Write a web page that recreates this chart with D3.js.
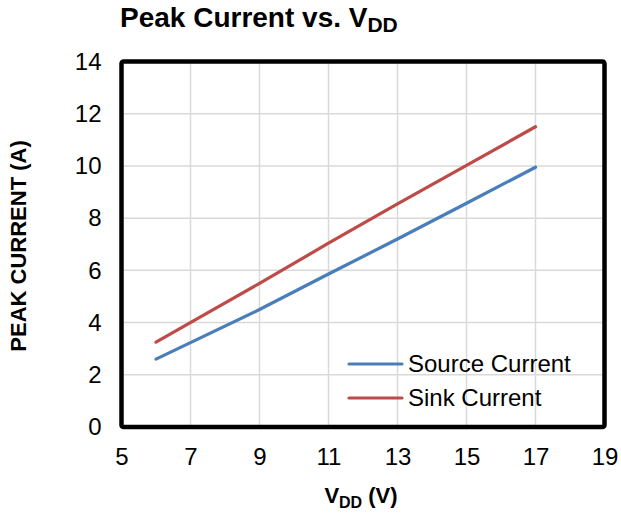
<!DOCTYPE html>
<html>
<head>
<meta charset="utf-8">
<script src="https://cdn.jsdelivr.net/npm/d3@7"></script>
<style>
    body { margin: 0; background: #fff; }
    text { font-family: "Liberation Sans", Arial, sans-serif; }
</style>
</head>
<body>
<div id="chart-div"></div>
<script>
const vdd = [6, 9, 11, 13, 15, 17];
const sourceCurrent = [2.6, 4.5, 5.86, 7.2, 8.57, 9.95];
const sinkCurrent = [3.25, 5.5, 7.04, 8.55, 10.02, 11.5];
const xTicks = [5, 7, 9, 11, 13, 15, 17, 19];
const yTicks = [0, 2, 4, 6, 8, 10, 12, 14];
const seriesNames = ["Source Current", "Sink Current"];

const WIDTH = 621;
const HEIGHT = 518;
const LEFT = 121.5, RIGHT = 604.5, TOP = 61.5, BOTTOM = 427;

let svg = d3.select("#chart-div")
    .append("svg")
    .attr("width", WIDTH)
    .attr("height", HEIGHT);

let xScale = d3.scaleLinear().domain([5, 19]).range([LEFT, RIGHT]);
let yScale = d3.scaleLinear().domain([0, 14]).range([BOTTOM, TOP]);

let color = d3.scaleOrdinal()
    .domain(seriesNames)
    .range(["#4a7ebb", "#be4b48"]);

// gridlines
svg.append("g")
    .selectAll("line.vgrid")
    .data(xTicks)
    .enter().append("line")
    .attr("x1", d => xScale(d)).attr("x2", d => xScale(d))
    .attr("y1", TOP).attr("y2", BOTTOM)
    .attr("stroke", "#d9d9d9").attr("stroke-width", 1.5);

svg.append("g")
    .selectAll("line.hgrid")
    .data(yTicks)
    .enter().append("line")
    .attr("x1", LEFT).attr("x2", RIGHT)
    .attr("y1", d => yScale(d)).attr("y2", d => yScale(d))
    .attr("stroke", "#d9d9d9").attr("stroke-width", 1.5);

// axes (labels only)
let xAxis = svg.append("g")
    .attr("transform", "translate(0," + BOTTOM + ")")
    .call(d3.axisBottom(xScale).tickValues(xTicks).tickSize(0).tickPadding(21));
let yAxis = svg.append("g")
    .attr("transform", "translate(" + LEFT + ",0)")
    .call(d3.axisLeft(yScale).tickValues(yTicks).tickSize(0).tickPadding(20));
[xAxis, yAxis].forEach(a => {
    a.select(".domain").remove();
    a.selectAll("text")
        .style("font-family", "'Liberation Sans', Arial, sans-serif")
        .style("font-size", "24px")
        .attr("fill", "#000");
});

// series lines
let rows = [sourceCurrent, sinkCurrent];
let line = d3.line()
    .x((d, i) => xScale(vdd[i]))
    .y(d => yScale(d));

svg.append("g")
    .selectAll("path")
    .data(rows)
    .enter().append("path")
    .attr("d", d => line(d))
    .attr("fill", "none")
    .attr("stroke", (d, i) => color(seriesNames[i]))
    .attr("stroke-width", 3.2)
    .attr("stroke-linecap", "round");

// plot border
svg.append("rect")
    .attr("x", LEFT).attr("y", TOP)
    .attr("width", RIGHT - LEFT).attr("height", BOTTOM - TOP)
    .attr("rx", 2)
    .attr("fill", "none")
    .attr("stroke", "#000")
    .attr("stroke-width", 4.5);

// legend
let legend = svg.append("g")
    .selectAll("g")
    .data(seriesNames)
    .enter().append("g")
    .attr("transform", (d, i) => "translate(349," + (364 + i * 34) + ")");
legend.append("line")
    .attr("x1", 0).attr("x2", 53)
    .attr("stroke", d => color(d))
    .attr("stroke-width", 3.2)
    .attr("stroke-linecap", "round");
legend.append("text")
    .attr("x", 59).attr("y", 8)
    .style("font-size", "24px")
    .text(d => d);

// title
let title = svg.append("text")
    .attr("x", 120).attr("y", 27)
    .style("font-size", "28px")
    .style("font-weight", "bold");
title.append("tspan").text("Peak Current vs. V");
title.append("tspan").attr("dy", 5).style("font-size", "21px").text("DD");

// x axis title
let xTitle = svg.append("text")
    .attr("x", 361).attr("y", 503)
    .attr("text-anchor", "middle")
    .style("font-size", "22px")
    .style("font-weight", "bold");
xTitle.append("tspan").text("V");
xTitle.append("tspan").attr("dy", 5).style("font-size", "16px").text("DD");
xTitle.append("tspan").attr("dy", -5).text(" (V)");

// y axis title
svg.append("text")
    .attr("transform", "translate(26,246)rotate(-90)")
    .attr("text-anchor", "middle")
    .style("font-size", "22px")
    .style("font-weight", "bold")
    .text("PEAK CURRENT (A)");
</script>
</body>
</html>
